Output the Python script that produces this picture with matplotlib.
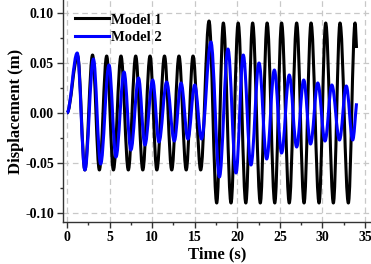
import matplotlib
matplotlib.use("Agg")
import matplotlib.pyplot as plt
from matplotlib.path import Path
from matplotlib.patches import PathPatch
from matplotlib.lines import Line2D
from matplotlib.ticker import MultipleLocator

# peaks and troughs: time (s), displacement (m)
t_model1 = [0, 1.25, 2.1, 3.0, 3.8, 4.66, 5.45, 6.34, 7.2, 8.07, 8.9, 9.75,
            10.55, 11.45, 12.3, 13.15, 14.0, 14.8, 15.7, 16.68, 17.58, 18.36,
            19.26, 20.1, 21.0, 21.8, 22.7, 23.5, 24.4, 25.2, 26.1, 26.97,
            27.84, 28.66, 29.6, 30.38, 31.28, 32.06, 33.04, 33.83, 34.0]
y_model1 = [0, 0.057, -0.057, 0.058, -0.057, 0.057, -0.057, 0.057, -0.057,
            0.057, -0.057, 0.057, -0.057, 0.057, -0.057, 0.057, -0.057, 0.057,
            -0.057, 0.092, -0.090, 0.090, -0.090, 0.090, -0.090, 0.090, -0.090,
            0.090, -0.090, 0.090, -0.090, 0.090, -0.090, 0.090, -0.090, 0.090,
            -0.090, 0.090, -0.090, 0.090, 0.065]

t_model2 = [0, 1.2, 2.1, 3.1, 3.95, 4.93, 5.75, 6.7, 7.5, 8.4, 9.15, 10.06,
            10.8, 11.7, 12.6, 13.4, 14.2, 15.0, 15.8, 16.9, 17.9, 18.9, 19.85,
            20.7, 21.6, 22.55, 23.45, 24.35, 25.2, 26.1, 26.97, 27.8, 28.6,
            29.45, 30.3, 31.1, 32.0, 32.8, 33.55, 34.0]
y_model2 = [0, 0.060, -0.057, 0.054, -0.051, 0.048, -0.044, 0.041, -0.037,
            0.035, -0.032, 0.033, -0.029, 0.031, -0.028, 0.030, -0.026, 0.028,
            -0.026, 0.071, -0.064, 0.064, -0.060, 0.058, -0.052, 0.050, -0.046,
            0.043, -0.040, 0.038, -0.034, 0.033, -0.031, 0.030, -0.028, 0.028,
            -0.027, 0.027, -0.027, 0.0097]

labels = ["Model 1", "Model 2"]
colors = ["black", "#0000ff"]


def wave_path(t, y, k=0.363):
    # smooth half-waves between extrema drawn as cubic Bezier segments
    verts = [(t[0], y[0])]
    codes = [Path.MOVETO]
    n = len(t)
    for i in range(1, n):
        dt = t[i] - t[i - 1]
        c1 = (t[i - 1] + k * dt, y[i - 1])
        if i == n - 1:
            c2 = (t[i] - dt / 3, y[i] - (y[i] - y[i - 1]) / 3)
        else:
            c2 = (t[i] - k * dt, y[i])
        verts += [c1, c2, (t[i], y[i])]
        codes += [Path.CURVE4] * 3
    return Path(verts, codes)


plt.rcParams["font.family"] = "Liberation Serif"
plt.rcParams["font.weight"] = "bold"

fig = plt.figure(figsize=(3.71, 2.64), dpi=100)
ax = fig.add_axes([63 / 371, 1 - 222 / 264, 308 / 371, 222 / 264])

for t, y, c in zip([t_model1, t_model2], [y_model1, y_model2], colors):
    ax.add_patch(PathPatch(wave_path(t, y), fill=False, edgecolor=c, lw=2.2,
                           joinstyle="round", capstyle="butt", zorder=3))

ax.set_xlim(-0.47, 35.7)
ax.set_ylim(-0.109, 0.113)
ax.xaxis.set_major_locator(MultipleLocator(5))
ax.xaxis.set_minor_locator(MultipleLocator(2.5))
ax.yaxis.set_major_locator(MultipleLocator(0.05))
ax.yaxis.set_minor_locator(MultipleLocator(0.025))
ax.yaxis.set_major_formatter(lambda v, p: f"{v:.2f}")

ax.grid(True, which="major", color="#c8c8c8", lw=0.9, ls=(0, (4.5, 3)))
ax.set_axisbelow(True)
for s in ["top", "right"]:
    ax.spines[s].set_visible(False)
for s in ["left", "bottom"]:
    ax.spines[s].set_color("#333333")
    ax.spines[s].set_linewidth(1)

ax.tick_params(which="major", direction="out", length=4, width=1,
               labelsize=10, pad=2.5, color="#333333")
ax.tick_params(which="minor", direction="out", length=2.5, width=1,
               color="#333333")

ax.set_xlabel("Time (s)", fontsize=12, fontweight="bold", labelpad=2)
ax.set_ylabel("Displacement (m)", fontsize=12, fontweight="bold", labelpad=1)

handles = [Line2D([], [], color=c, lw=2.2) for c in colors]
ax.legend(handles, labels, loc="upper left", bbox_to_anchor=(0.04, 0.94),
          frameon=False, handlelength=2.3, handletextpad=0.15,
          borderpad=0, borderaxespad=0, labelspacing=0.3,
          prop={"weight": "bold", "size": 10.5})

fig.savefig("out.png", dpi=100)
